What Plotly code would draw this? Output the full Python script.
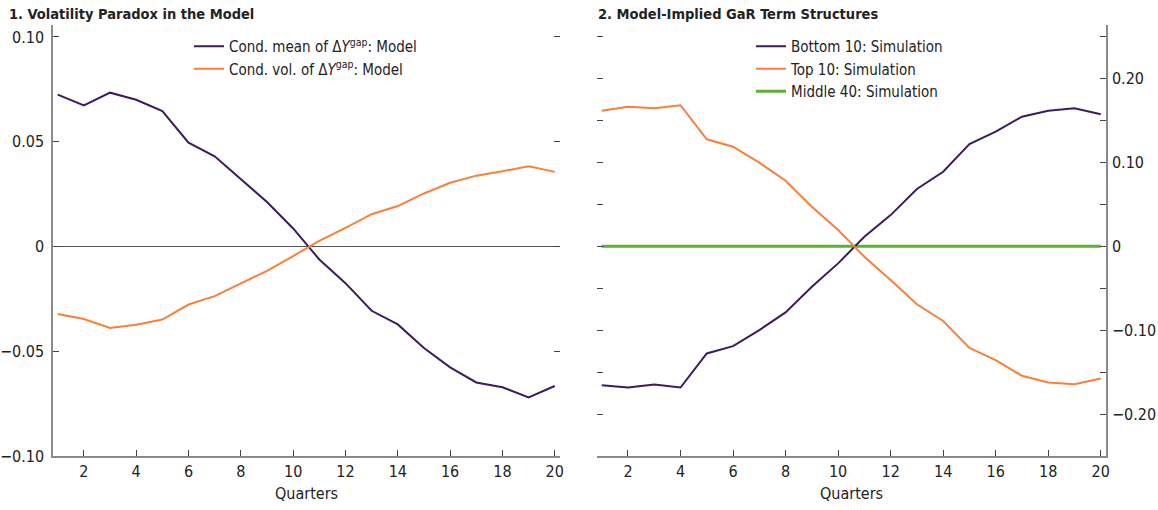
import plotly.graph_objects as go

# Quarters ahead
quarters = list(range(1, 21))

# Panel 1: conditional moments of the output-gap change
cond_mean = [0.0725, 0.0673, 0.0734, 0.0700, 0.0646, 0.0495, 0.0430, 0.0322, 0.0212, 0.0086,
             -0.0062, -0.0175, -0.0307, -0.0372, -0.0485, -0.0577, -0.0649, -0.0672, -0.0720, -0.0666]
cond_vol = [-0.0322, -0.0346, -0.0389, -0.0374, -0.0349, -0.0277, -0.0237, -0.0175, -0.0116, -0.0046,
            0.0027, 0.0089, 0.0154, 0.0193, 0.0253, 0.0304, 0.0338, 0.0359, 0.0383, 0.0356]

# Panel 2: simulated GaR term structures
bottom10 = [-0.1655, -0.1683, -0.1647, -0.1683, -0.1277, -0.1190, -0.0999, -0.0788, -0.0482, -0.0203,
            0.0115, 0.0373, 0.0684, 0.0890, 0.1220, 0.1368, 0.1547, 0.1618, 0.1647, 0.1575]
top10 = [0.1618, 0.1666, 0.1647, 0.1683, 0.1277, 0.1189, 0.0998, 0.0783, 0.0473, 0.0195,
         -0.0124, -0.0400, -0.0690, -0.0890, -0.1210, -0.1357, -0.1544, -0.1623, -0.1643, -0.1575]
middle40 = [0.0, 0.0, 0.0, 0.0, 0.0, 0.0, 0.0, 0.0, 0.0, 0.0,
            0.0, 0.0, 0.0, 0.0, 0.0, 0.0, 0.0, 0.0, 0.0, 0.0]

x_ticks = [2, 4, 6, 8, 10, 12, 14, 16, 18, 20]
left_ticks = [-0.10, -0.05, 0.0, 0.05, 0.10]
left_labels = ["\u22120.10", "\u22120.05", "0", "0.05", "0.10"]
right_ticks = [-0.25, -0.20, -0.15, -0.10, -0.05, 0.0, 0.05, 0.10, 0.15, 0.20, 0.25]
right_labels = ["", "\u22120.20", "", "\u22120.10", "", "0", "", "0.10", "", "0.20", ""]

PURPLE = "#3F1A5F"
ORANGE = "#FB7F3C"
GREEN = "#5BB134"
AXIS = "#8A8A8A"
TICK = "#444444"
FONT = "DejaVu Sans Condensed, DejaVu Sans, sans-serif"

W, H = 1158, 510
def px(x):
    return x / W
def py(y):
    return 1 - y / H

dom_y = [py(456), py(25)]
dom_x1 = [px(53), px(560)]
dom_x2 = [px(597), px(1106)]
x_range = [0.82, 20.2]
left_range = [-0.10, 0.1057]
right_range = [-0.25, 0.264]

fig = go.Figure()

mean_name = "Cond. mean of \u0394<i>Y</i><sup>gap</sup>: Model"
vol_name = "Cond. vol. of \u0394<i>Y</i><sup>gap</sup>: Model"

fig.add_trace(go.Scatter(x=quarters, y=cond_mean, mode="lines", name=mean_name,
                         line=dict(color=PURPLE, width=2), xaxis="x", yaxis="y", legend="legend"))
fig.add_trace(go.Scatter(x=quarters, y=cond_vol, mode="lines", name=vol_name,
                         line=dict(color=ORANGE, width=2), xaxis="x", yaxis="y", legend="legend"))

fig.add_trace(go.Scatter(x=quarters, y=middle40, mode="lines", name="Middle 40: Simulation",
                         line=dict(color=GREEN, width=3), xaxis="x2", yaxis="y2", legend="legend2",
                         legendrank=3))
fig.add_trace(go.Scatter(x=quarters, y=bottom10, mode="lines", name="Bottom 10: Simulation",
                         line=dict(color=PURPLE, width=2), xaxis="x2", yaxis="y2", legend="legend2",
                         legendrank=1))
fig.add_trace(go.Scatter(x=quarters, y=top10, mode="lines", name="Top 10: Simulation",
                         line=dict(color=ORANGE, width=2), xaxis="x2", yaxis="y2", legend="legend2",
                         legendrank=2))

tick_font = dict(family=FONT, size=16, color="#222222")

xcommon = dict(range=x_range, tickvals=x_ticks, ticks="inside", ticklen=6, tickcolor=TICK,
               showline=True, linecolor=AXIS, linewidth=1.5, showgrid=False, zeroline=False,
               tickfont=tick_font, automargin=False,
               title=dict(text="Quarters", font=tick_font, standoff=8))

fig.update_layout(
    width=W, height=H,
    margin=dict(l=0, r=0, t=0, b=0, autoexpand=False),
    paper_bgcolor="white", plot_bgcolor="white",
    font=dict(family=FONT, size=15, color="#222222"),
    xaxis=dict(domain=dom_x1, anchor="y", **xcommon),
    yaxis=dict(domain=dom_y, anchor="x", range=left_range, tickvals=left_ticks, ticktext=left_labels,
               ticks="inside", ticklen=6, tickcolor=TICK, showline=True, linecolor=AXIS, linewidth=1.5,
               showgrid=False, zeroline=True, zerolinecolor="#555555", zerolinewidth=1,
               tickfont=tick_font, automargin=False, ticklabelstandoff=4),
    yaxis3=dict(overlaying="y", side="right", anchor="x", range=left_range, tickvals=left_ticks,
                showticklabels=False, ticks="inside", ticklen=6, tickcolor=TICK, showline=False,
                showgrid=False, zeroline=False, automargin=False),
    xaxis2=dict(domain=dom_x2, anchor="y2", **xcommon),
    yaxis2=dict(domain=dom_y, anchor="x2", side="right", range=right_range, tickvals=right_ticks,
                ticktext=right_labels, ticks="inside", ticklen=6, tickcolor=TICK, showline=True,
                linecolor=AXIS, linewidth=1.5, showgrid=False, zeroline=False, tickfont=tick_font,
                automargin=False, ticklabelstandoff=1),
    yaxis4=dict(overlaying="y2", side="left", anchor="x2", range=right_range, tickvals=right_ticks,
                showticklabels=False, ticks="inside", ticklen=6, tickcolor=TICK, showline=False,
                showgrid=False, zeroline=False, automargin=False),
    legend=dict(x=px(189), y=py(30), xanchor="left", yanchor="top", bgcolor="rgba(0,0,0,0)",
                font=dict(family=FONT, size=15), tracegroupgap=0, itemwidth=30),
    legend2=dict(x=px(751), y=py(30), xanchor="left", yanchor="top", bgcolor="rgba(0,0,0,0)",
                 font=dict(family=FONT, size=15), tracegroupgap=0, itemwidth=30, traceorder="normal"),
    showlegend=True,
)

# Placeholder traces so the mirrored tick axes render
fig.add_trace(go.Scatter(x=[None], y=[None], xaxis="x", yaxis="y3", showlegend=False, hoverinfo="skip"))
fig.add_trace(go.Scatter(x=[None], y=[None], xaxis="x2", yaxis="y4", showlegend=False, hoverinfo="skip"))

title_font = dict(family=FONT, size=14.5, color="#222222")
fig.add_annotation(text="<b>1. Volatility Paradox in the Model</b>", xref="paper", yref="paper",
                   x=px(7), y=py(14), xanchor="left", yanchor="middle", showarrow=False, font=title_font)
fig.add_annotation(text="<b>2. Model-Implied GaR Term Structures</b>", xref="paper", yref="paper",
                   x=px(596), y=py(14), xanchor="left", yanchor="middle", showarrow=False, font=title_font)

fig.write_html("out.html")
